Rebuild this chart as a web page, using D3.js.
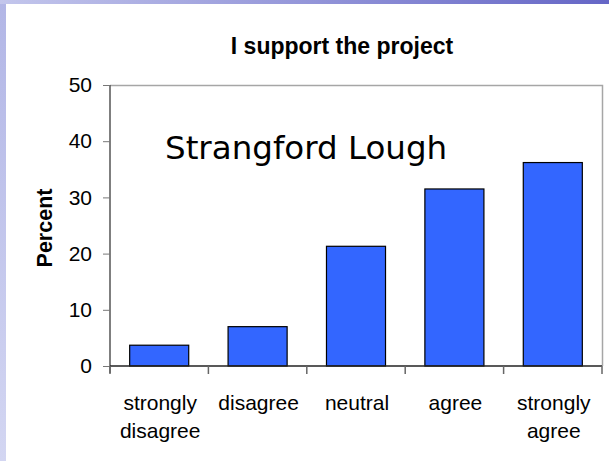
<!DOCTYPE html>
<html>
<head>
<meta charset="utf-8">
<script src="https://cdn.jsdelivr.net/npm/d3@7"></script>
<style>
  html, body { margin: 0; padding: 0; }
  body { width: 609px; height: 461px; overflow: hidden; }
  text { font-family: "Liberation Sans", Arial, sans-serif; fill: #000; }
</style>
</head>
<body>
<div class="vis-bar"></div>
<script>
// data
const categories = [["strongly", "disagree"], ["disagree"], ["neutral"], ["agree"], ["strongly", "agree"]];
const percents = [3.7, 7.0, 21.3, 31.5, 36.2];
const yTicks = [0, 10, 20, 30, 40, 50];

const W = 609, H = 461;
const margin = {top: 85, right: 7, bottom: 95, left: 110};
const width = W - margin.left - margin.right;
const height = H - margin.top - margin.bottom;

const svg = d3.select('.vis-bar')
    .append('svg')
    .attr('width', W)
    .attr('height', H);

// slide background: blue gradient frame, white panel
const defs = svg.append('defs');
const topGrad = defs.append('linearGradient').attr('id', 'topband');
topGrad.append('stop').attr('offset', '0%').attr('stop-color', '#c3c6ec');
topGrad.append('stop').attr('offset', '100%').attr('stop-color', '#6566c6');
const leftGrad = defs.append('linearGradient').attr('id', 'leftband')
    .attr('x1', 0).attr('y1', 0).attr('x2', 0).attr('y2', 1);
leftGrad.append('stop').attr('offset', '0%').attr('stop-color', '#b2b6e6');
leftGrad.append('stop').attr('offset', '100%').attr('stop-color', '#d3d6f2');

svg.append('rect').attr('width', W).attr('height', H).attr('fill', 'url(#leftband)');
svg.append('rect').attr('width', W).attr('height', 4).attr('fill', 'url(#topband)');
svg.append('rect').attr('x', 6).attr('y', 4).attr('width', W - 6).attr('height', H - 4).attr('fill', '#fff');

const g = svg.append('g')
    .attr('transform', 'translate(' + margin.left + ',' + margin.top + ')');

let xScale = d3.scaleBand()
    .domain(d3.range(categories.length))
    .range([0, width])
    .paddingInner(0.4)
    .paddingOuter(0.2);

let yScale = d3.scaleLinear()
    .domain([0, 50])
    .range([height, 0]);

// grey frame top and right
g.append('path')
    .attr('d', 'M0,0.5H' + (width + 0.5) + 'V' + height)
    .attr('fill', 'none')
    .attr('stroke', '#a6a6a6')
    .attr('stroke-width', 1.5);

// bars
g.selectAll('.bar')
    .data(percents)
    .enter()
    .append('rect')
    .attr('class', 'bar')
    .attr('x', (d, i) => xScale(i))
    .attr('y', d => yScale(d))
    .attr('width', xScale.bandwidth())
    .attr('height', d => height - yScale(d))
    .attr('fill', '#3366ff')
    .attr('stroke', '#000')
    .attr('stroke-width', 1.2);

// Y axis
const yAxis = g.append('g')
    .call(d3.axisLeft(yScale).tickValues(yTicks).tickSize(7).tickPadding(11));
yAxis.select('.domain').attr('stroke', '#555').attr('stroke-width', 1.5).attr('d', 'M0,0V' + (height + 7));
yAxis.selectAll('.tick line').attr('stroke', '#777');
yAxis.selectAll('text').style('font-size', '21px').attr('fill', '#000');

// X axis, ticks at category boundaries
const bounds = d3.range(categories.length + 1).map(i => i * width / categories.length);
const xAxis = g.append('g').attr('transform', 'translate(0,' + height + ')');
xAxis.append('line')
    .attr('x1', 0).attr('x2', width)
    .attr('stroke', '#222').attr('stroke-width', 1.5);
xAxis.selectAll('.xtick')
    .data(bounds)
    .enter()
    .append('line')
    .attr('x1', d => d).attr('x2', d => d)
    .attr('y1', 0).attr('y2', 8)
    .attr('stroke', '#666').attr('stroke-width', 1.5);

xAxis.selectAll('.xlabel')
    .data(categories)
    .enter()
    .append('text')
    .attr('text-anchor', 'middle')
    .attr('x', (d, i) => xScale(i) + xScale.bandwidth() / 2 + 1)
    .attr('y', 44)
    .style('font-size', '21px')
    .selectAll('tspan')
    .data(d => d)
    .enter()
    .append('tspan')
    .attr('x', function() { return this.parentNode.getAttribute('x'); })
    .attr('dy', (d, i) => i === 0 ? 0 : 28)
    .text(d => d);

// title
svg.append('text')
    .attr('x', 342)
    .attr('y', 54)
    .attr('text-anchor', 'middle')
    .style('font-size', '23px')
    .style('font-weight', 'bold')
    .text('I support the project');

// y label
svg.append('text')
    .attr('transform', 'translate(52,228) rotate(-90)')
    .attr('text-anchor', 'middle')
    .style('font-size', '21.5px')
    .style('font-weight', 'bold')
    .text('Percent');

// annotation
svg.append('text')
    .attr('x', 165)
    .attr('y', 159)
    .style('font-family', '"DejaVu Sans", Verdana, sans-serif')
    .style('font-size', '32.5px')
    .text('Strangford Lough');
</script>
</body>
</html>
